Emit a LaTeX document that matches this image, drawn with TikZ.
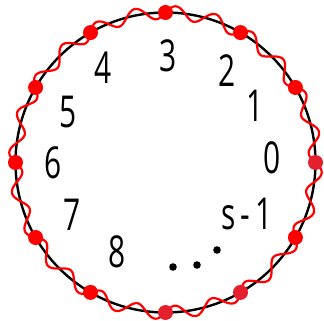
\documentclass[tikz,border=0pt]{standalone}
\usepackage{fontspec}
\usetikzlibrary{calc}
\newfontfamily\hand{Open Sans}
\definecolor{crim}{HTML}{E4202E}
\begin{document}
\begin{tikzpicture}[x=1pt,y=1pt,
  lbl/.style={font=\hand\fontsize{44}{44}\selectfont, inner sep=0pt},
  dotf/.style={fill=red, draw=none},
  dotc/.style={fill=crim, draw=none}]
\useasboundingbox (0,0) rectangle (324,321);
\coordinate (c) at (165.5,158.5);
\draw[black, line width=2.4] (c) circle[radius=150];
\draw[red, line width=2.2] plot[domain=0:360, samples=1441, smooth]
  ({165.5+(150-6.5*sin(24*(\x-90)))*cos(\x)}, {158.5+(150-6.5*sin(24*(\x-90)))*sin(\x)});
\foreach \a/\s in {90/dotf,60/dotf,30/dotf,0/dotc,-30/dotf,-60/dotc,-90/dotc,-120/dotf,-150/dotf,180/dotf,150/dotf,120/dotf}{
  \fill[\s] ($(c)+(\a:150)$) circle[radius=7.5];
}
\node[lbl] (n3) at (168,265) {\scalebox{0.68}[1]{3}};
\node[lbl] (n2) at (227,250) {\scalebox{0.68}[1]{2}};
\node[lbl] (n1) at (255,215) {\scalebox{0.68}[1]{1}};
\node[lbl] (n0) at (272,163) {\scalebox{0.68}[1]{0}};
\node[lbl] (ns) at (247,107) {\scalebox{0.68}[1]{s\,-\,1}};
\node[lbl] (n8) at (117,69) {\scalebox{0.68}[1]{8}};
\node[lbl] (n7) at (72,106) {\scalebox{0.68}[1]{7}};
\node[lbl] (n6) at (53,158) {\scalebox{0.68}[1]{6}};
\node[lbl] (n5) at (68,209) {\scalebox{0.68}[1]{5}};
\node[lbl] (n4) at (103,253) {\scalebox{0.68}[1]{4}};
\fill (173,54) circle[radius=3.8];
\fill (197,56) circle[radius=3.8];
\fill (217,71) circle[radius=3.8];
\end{tikzpicture}
\end{document}
